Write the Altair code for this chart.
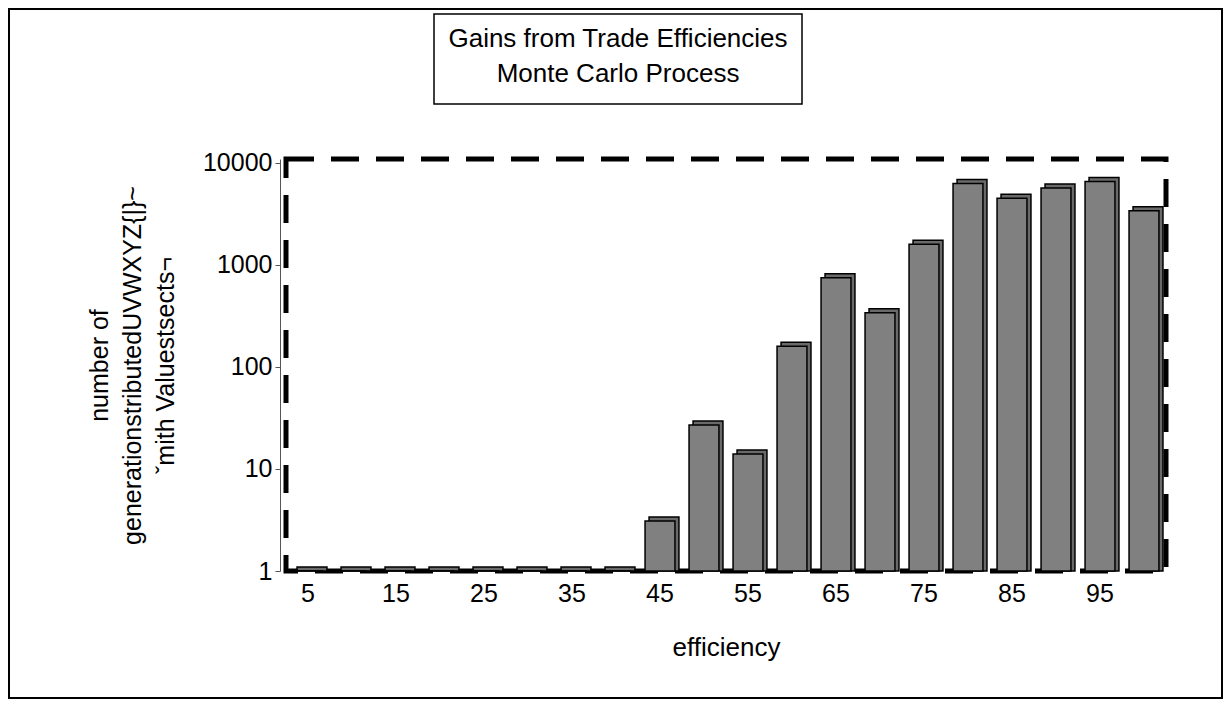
import altair as alt
import pandas as pd

# ---- data ----
efficiency = [5, 10, 15, 20, 25, 30, 35, 40, 45, 50, 55, 60, 65, 70, 75, 80, 85, 90, 95, 100]
counts = [1, 1, 1, 1, 1, 1, 1, 1, 3.1, 27, 14, 160, 750, 340, 1600, 6300, 4500, 5700, 6600, 3400]
x_tick_labels = [5, 15, 25, 35, 45, 55, 65, 75, 85, 95]
y_tick_values = [1, 10, 100, 1000, 10000]
title_lines = ["Gains from Trade Efficiencies", "Monte Carlo Process"]
y_title = ["number of", "generationstributedUVWXYZ{|}~", "ˇmith Valuestsects¬"]
x_title = "efficiency"

df = pd.DataFrame({"efficiency": efficiency, "count": counts})
one = pd.DataFrame({"k": [0]})

FONT = "Liberation Sans"
W, H = 880, 412

x = alt.X(
    "efficiency:O",
    scale=alt.Scale(paddingInner=0.32, paddingOuter=0.16),
    axis=alt.Axis(
        values=x_tick_labels, title=x_title, labelAngle=0, ticks=False, domain=False,
        labelFont=FONT, labelFontSize=25, labelColor="black", labelPadding=10,
        titleFont=FONT, titleFontSize=26, titleFontWeight="normal", titleColor="black",
        titlePadding=28,
    ),
)
y = alt.Y(
    "count:Q",
    scale=alt.Scale(type="log", domain=[1, 10940], nice=False),
    axis=alt.Axis(
        values=y_tick_values, format="d", grid=False, offset=6,
        domainColor="#555555", domainWidth=1, tickColor="#555555", tickSize=5,
        labelFont=FONT, labelFontSize=25, labelColor="black", labelPadding=3,
        title=y_title, titleFont=FONT, titleFontSize=25, titleFontWeight="normal",
        titleColor="black", titlePadding=24, titleLineHeight=33,
    ),
)

side = alt.Chart(df).mark_bar(
    xOffset=4, yOffset=-4, fill="#6a6a6a", stroke="black", strokeWidth=1.5
).encode(x=x, y=y, y2=alt.datum(1))

front = alt.Chart(df).mark_bar(
    fill="#808080", stroke="black", strokeWidth=1.5
).encode(x=x, y=y, y2=alt.datum(1))

outer = alt.Chart(one).mark_rect(fill=None, stroke="black", strokeWidth=2).encode(
    x=alt.value(-277), x2=alt.value(936), y=alt.value(-150), y2=alt.value(539)
)
title_box = alt.Chart(one).mark_rect(fill="white", stroke="black", strokeWidth=1.5).encode(
    x=alt.value(148), x2=alt.value(516), y=alt.value(-145), y2=alt.value(-55)
)
title_text = alt.Chart(one).mark_text(
    text=title_lines, font=FONT, fontSize=26, lineHeight=35, align="center",
    baseline="alphabetic", color="black"
).encode(x=alt.value(332), y=alt.value(-112))

chart = alt.layer(outer, title_box, title_text, side, front).properties(
    width=W, height=H,
    autosize=alt.AutoSizeParams(type="none"),
    padding={"left": 278, "top": 151, "right": 57, "bottom": 128},
).configure_view(
    stroke="black", strokeWidth=5, strokeDash=[28, 17]
)

chart.save("out.html", embed_options={"renderer": "svg", "actions": False})
